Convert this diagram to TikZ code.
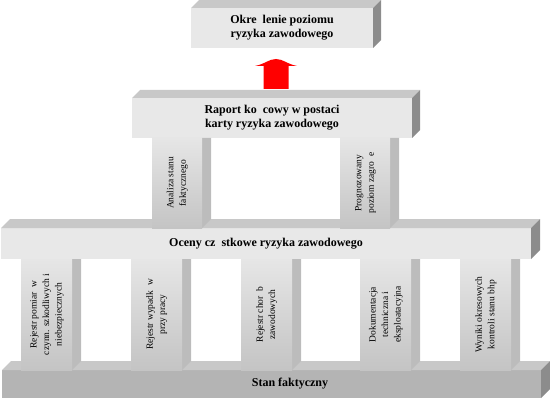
\documentclass[tikz,border=0pt]{standalone}
\usepackage{fontspec}
\setmainfont{Liberation Serif}
\usetikzlibrary{positioning,calc}
\definecolor{facegray}{HTML}{E8E8E8}
\definecolor{topgray}{HTML}{C8C8C8}
\definecolor{sidegray}{HTML}{8C8C8C}
\definecolor{stanfront}{HTML}{B4B4B4}
\definecolor{pillarlight}{HTML}{E6E6E6}
\definecolor{pillardark}{HTML}{C4C4C4}
\definecolor{pillarside}{HTML}{BCBCBC}

\tikzset{
  slab/.style={fill=facegray, inner sep=0pt, outer sep=0pt, align=center,
    font=\fontsize{12}{14}\selectfont\bfseries},
  pillar/.style={inner sep=0pt, outer sep=0pt,
    top color=pillarlight, bottom color=pillardark,
    font=\fontsize{9.5}{12.5}\selectfont}
}

\begin{document}
\begin{tikzpicture}[x=1pt, y=1pt]
    \useasboundingbox (0,0) rectangle (550,400);

    % Slabs
    \node[slab, fill=stanfront, minimum width=539, minimum height=28] (stan) at (271.5,16) {\hspace*{37pt}Stan faktyczny};
    \node[slab, minimum width=530, minimum height=31] (oceny) at (266,156.5) {Oceny cz\enspace stkowe ryzyka zawodowego};
    \node[slab, minimum width=280, minimum height=40] (raport) at (272,282) {Raport ko\enspace cowy w postaci\\karty ryzyka zawodowego};
    \node[slab, minimum width=182, minimum height=40] (okr) at (282,372) {Okre\enspace lenie poziomu\\ryzyka zawodowego};

    % Top and side faces
    \foreach \s/\d in {stan/9, oceny/9, raport/8, okr/8} {
        \fill[topgray] (\s.north west) -- ++(\d,\d) -- ($(\s.north east)+(\d,\d)$) -- (\s.north east) -- cycle;
        \fill[sidegray] (\s.north east) -- ++(\d,\d) -- ($(\s.south east)+(\d,\d)$) -- (\s.south east) -- cycle;
    }

    % Lower pillars
    \foreach \x/\txt [count=\i] in {21/{Rejestr pomiar\enspace w\\czynn. szkodliwych i\\niebezpiecznych},
            131/{Rejestr wypadk\enspace w\\przy pracy},
            241/{Rejestr chor\enspace b\\zawodowych},
            360/{Dokumentacja\\techniczna i\\eksploatacyjna},
            460/{Wyniki okresowych\\kontroli stanu bhp}} {
        \fill[pillarside] (\x+51,30) -- (\x+60,39) -- (\x+60,141) -- (\x+51,141) -- cycle;
        \node[pillar, minimum width=51, minimum height=111] (low\i) at (\x+25.5,85.5)
            {\rotatebox{90}{\begin{tabular}{@{}c@{}}\txt\end{tabular}}};
    }

    % Upper pillars
    \foreach \x/\txt [count=\i] in {152/{Analiza stanu\\faktycznego},
            340/{Prognozowany\\poziom zagro\enspace e}} {
        \fill[pillarside] (\x+50,172) -- (\x+59,181) -- (\x+59,262) -- (\x+50,262) -- cycle;
        \node[pillar, minimum width=50, minimum height=90] (up\i) at (\x+25,217)
            {\rotatebox{90}{\begin{tabular}{@{}c@{}}\txt\end{tabular}}};
    }

    % Arrow
    \coordinate (abase) at ($(raport.north)+(4,9)$);
    \coordinate (atip) at ($(okr.south)+(-6,-11)$);
    \fill[red] ($(abase)+(-12.5,0)$) -- ($(abase)+(12.5,0)$) -- ($(atip)+(12.5,-7)$) -- ($(atip)+(21,-7)$)
        .. controls ($(atip)+(11,-5)$) and ($(atip)+(7,0)$) .. (atip)
        .. controls ($(atip)+(-7,0)$) and ($(atip)+(-11,-5)$) .. ($(atip)+(-21,-7)$)
        -- ($(atip)+(-12.5,-7)$) -- cycle;
\end{tikzpicture}
\end{document}
